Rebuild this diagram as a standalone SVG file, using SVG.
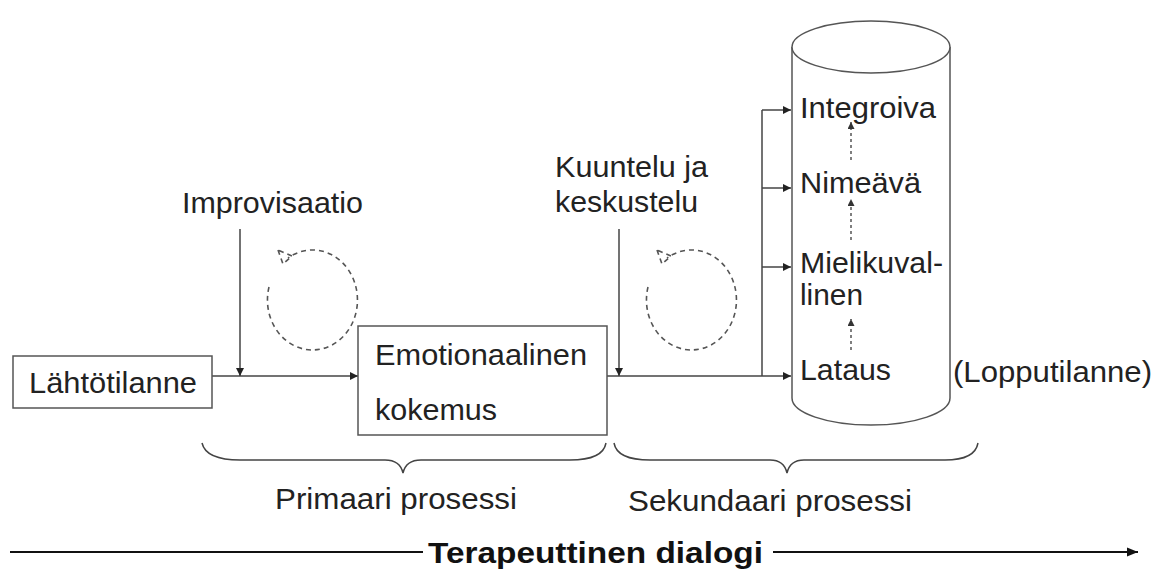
<svg xmlns="http://www.w3.org/2000/svg" width="1163" height="574" viewBox="0 0 1163 574">
<style>
.t{font-family:"Liberation Sans",Arial,sans-serif;font-size:29px;fill:#222}
.b{font-family:"Liberation Sans",Arial,sans-serif;font-size:29px;font-weight:bold;fill:#111}
.ln{stroke:#444;stroke-width:1.5;fill:none}
.thick{stroke:#111;stroke-width:2.2;fill:none}
.box{stroke:#555;stroke-width:1.5;fill:#fff}
.dash{stroke:#555;stroke-width:1.6;fill:none;stroke-dasharray:5 4}
.dot{stroke:#555;stroke-width:1.5;fill:none;stroke-dasharray:3 3}
</style>
<defs>
<marker id="ah" viewBox="0 0 10 10" refX="10" refY="5" markerWidth="8" markerHeight="8" markerUnits="userSpaceOnUse" orient="auto">
<path d="M0,0 L10,5 L0,10 z" fill="#222"/>
</marker>
<marker id="ahs" viewBox="0 0 10 10" refX="10" refY="5" markerWidth="7" markerHeight="7" markerUnits="userSpaceOnUse" orient="auto">
<path d="M0,0 L10,5 L0,10 z" fill="#333"/>
</marker>
<marker id="ahb" viewBox="0 0 10 10" refX="10" refY="5" markerWidth="11" markerHeight="11" markerUnits="userSpaceOnUse" orient="auto">
<path d="M0,1 L10,5 L0,9 z" fill="#111"/>
</marker>
</defs>
<rect width="1163" height="574" fill="#fff"/>

<g id="cylinder">
<path class="box" d="M792,47 L792,398 A79,27 0 0 0 950,398 L950,47"/>
<ellipse class="box" cx="871" cy="47" rx="79" ry="26"/>
</g>

<g id="connectors">
<line class="ln" x1="212" y1="376" x2="358" y2="376" marker-end="url(#ah)"/>
<line class="ln" x1="240" y1="229" x2="240" y2="376" marker-end="url(#ah)"/>
<line class="ln" x1="607" y1="376" x2="791" y2="376" marker-end="url(#ah)"/>
<line class="ln" x1="619" y1="229" x2="619" y2="376" marker-end="url(#ah)"/>
<path class="ln" d="M762,376 L762,110"/>
<line class="ln" x1="762" y1="110" x2="791" y2="110" marker-end="url(#ah)"/>
<line class="ln" x1="762" y1="188" x2="791" y2="188" marker-end="url(#ah)"/>
<line class="ln" x1="762" y1="267" x2="791" y2="267" marker-end="url(#ah)"/>
<line class="dot" x1="851" y1="350" x2="851" y2="319" marker-end="url(#ahs)"/>
<line class="dot" x1="851" y1="240" x2="851" y2="199" marker-end="url(#ahs)"/>
<line class="dot" x1="851" y1="160" x2="851" y2="122" marker-end="url(#ahs)"/>
<line class="thick" x1="10" y1="552" x2="423" y2="552"/>
<line class="thick" x1="773" y1="552" x2="1138" y2="552" marker-end="url(#ahb)"/>
</g>

<g id="loop1">
<path class="dash" d="M269,287 A45,50 0 1 0 288,258"/>
<path class="dash" d="M278,250 L283,264 L292,256 z" stroke-dasharray="3 2"/>
</g>
<g id="loop2">
<path class="dash" d="M648,287 A45,50 0 1 0 667,258"/>
<path class="dash" d="M657,250 L662,264 L671,256 z" stroke-dasharray="3 2"/>
</g>

<g id="braces">
<path class="ln" d="M202,443 Q206,460 240,460 L385,460 Q400,460 403,473 Q406,460 421,460 L570,460 Q603,460 606,443"/>
<path class="ln" d="M614,443 Q617,460 650,460 L770,460 Q784,460 787,473 Q790,460 804,460 L945,460 Q975,460 978,443"/>
</g>

<g id="lahtotilanne">
<rect class="box" x="13" y="356" width="199" height="52"/>
<text class="t" x="29" y="393" textLength="168" lengthAdjust="spacingAndGlyphs">Lähtötilanne</text>
</g>

<g id="emotionaalinen">
<rect class="box" x="358" y="326" width="249" height="109"/>
<text class="t" x="375" y="365" textLength="212" lengthAdjust="spacingAndGlyphs">Emotionaalinen</text>
<text class="t" x="375" y="420" textLength="122" lengthAdjust="spacingAndGlyphs">kokemus</text>
</g>

<g id="improvisaatio">
<text class="t" x="182" y="213" textLength="181" lengthAdjust="spacingAndGlyphs">Improvisaatio</text>
</g>

<g id="kuuntelu">
<text class="t" x="555" y="177" textLength="153" lengthAdjust="spacingAndGlyphs">Kuuntelu ja</text>
<text class="t" x="555" y="212" textLength="143" lengthAdjust="spacingAndGlyphs">keskustelu</text>
</g>

<g id="levels">
<text class="t" x="800" y="118" textLength="136" lengthAdjust="spacingAndGlyphs">Integroiva</text>
<text class="t" x="800" y="193" textLength="121" lengthAdjust="spacingAndGlyphs">Nimeävä</text>
<text class="t" x="800" y="273" textLength="143" lengthAdjust="spacingAndGlyphs">Mielikuval-</text>
<text class="t" x="800" y="305" textLength="63" lengthAdjust="spacingAndGlyphs">linen</text>
<text class="t" x="800" y="380" textLength="91" lengthAdjust="spacingAndGlyphs">Lataus</text>
</g>

<g id="lopputilanne">
<text class="t" x="953" y="382" textLength="199" lengthAdjust="spacingAndGlyphs">(Lopputilanne)</text>
</g>

<g id="primaari">
<text class="t" x="275" y="509" textLength="242" lengthAdjust="spacingAndGlyphs">Primaari prosessi</text>
</g>
<g id="sekundaari">
<text class="t" x="628" y="511" textLength="284" lengthAdjust="spacingAndGlyphs">Sekundaari prosessi</text>
</g>

<g id="dialogi">
<text class="b" x="428" y="563" textLength="335" lengthAdjust="spacingAndGlyphs">Terapeuttinen dialogi</text>
</g>
</svg>
